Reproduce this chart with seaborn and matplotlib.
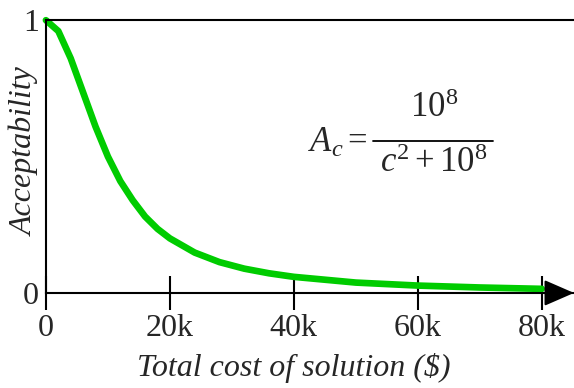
import matplotlib
matplotlib.use("Agg")
import matplotlib.pyplot as plt
import seaborn as sns
import pandas as pd

# values (cost in $, acceptability)
cost = [0, 2000, 4000, 6000, 8000, 10000, 12000, 14000, 16000, 18000, 20000,
        24000, 28000, 32000, 36000, 40000, 50000, 60000, 70000, 80000]
accept = [1.0, 0.96, 0.86, 0.735, 0.61, 0.5, 0.41, 0.34, 0.28, 0.235, 0.2,
          0.148, 0.113, 0.089, 0.072, 0.059, 0.038, 0.027, 0.02, 0.015]
xticks = [0, 20000, 40000, 60000, 80000]
xtick_labels = ["0", "20k", "40k", "60k", "80k"]

df = pd.DataFrame({"cost": cost, "accept": accept})

sns.set_style("white")
plt.rcParams["font.family"] = ["Liberation Serif", "DejaVu Serif"]
plt.rcParams["mathtext.fontset"] = "custom"
plt.rcParams["mathtext.rm"] = "Liberation Serif"
plt.rcParams["mathtext.it"] = "Liberation Serif:italic"

fig = plt.figure(figsize=(5.74, 3.88), dpi=100)
ax = fig.add_axes([0.080, 0.245, 0.92, 0.703])

sns.lineplot(data=df, x="cost", y="accept", ax=ax, color="#00cc00",
             linewidth=4.8, solid_capstyle="round", clip_on=False)

ax.set_xlim(0, 85200)
ax.set_ylim(0, 1)
ax.set_xticks(xticks)
ax.set_xticklabels(xtick_labels, fontsize=23)
ax.set_yticks([0, 1])
ax.set_yticklabels(["0", "1"], fontsize=23)
ax.tick_params(axis="x", bottom=True, direction="inout", length=24, width=1.5,
               pad=3, color="black")
ax.tick_params(axis="y", left=False, length=0, pad=5)

for side in ["left", "top", "bottom"]:
    ax.spines[side].set_color("black")
    ax.spines[side].set_linewidth(1.5)
ax.spines["right"].set_visible(False)

# arrow head at end of x axis
ax.annotate("", xy=(1.0, 0), xytext=(0.95, 0), xycoords="axes fraction",
            arrowprops=dict(arrowstyle="-|>,head_length=0.62,head_width=0.27",
                            color="black", lw=1.5,
                            mutation_scale=30, shrinkA=0, shrinkB=0),
            annotation_clip=False)

ax.set_xlabel("Total cost of solution (\\$)", fontsize=23, style="italic")
ax.xaxis.set_label_coords(0.47, -0.22)
ax.set_ylabel("Acceptability", fontsize=23, style="italic")
ax.yaxis.set_label_coords(-0.012, 0.52)

# formula, built as a stacked fraction
ax.text(0.553, 0.55, r"$A_c =$", transform=ax.transAxes, fontsize=25,
        ha="center", va="center")
ax.text(0.735, 0.675, r"$10^8$", transform=ax.transAxes, fontsize=25,
        ha="center", va="center")
ax.plot([0.62, 0.847], [0.557, 0.557], transform=ax.transAxes,
        color="black", lw=1.3)
ax.text(0.735, 0.475, r"$c^2 + 10^8$", transform=ax.transAxes, fontsize=25,
        ha="center", va="center")

fig.savefig("out.png", dpi=100)
